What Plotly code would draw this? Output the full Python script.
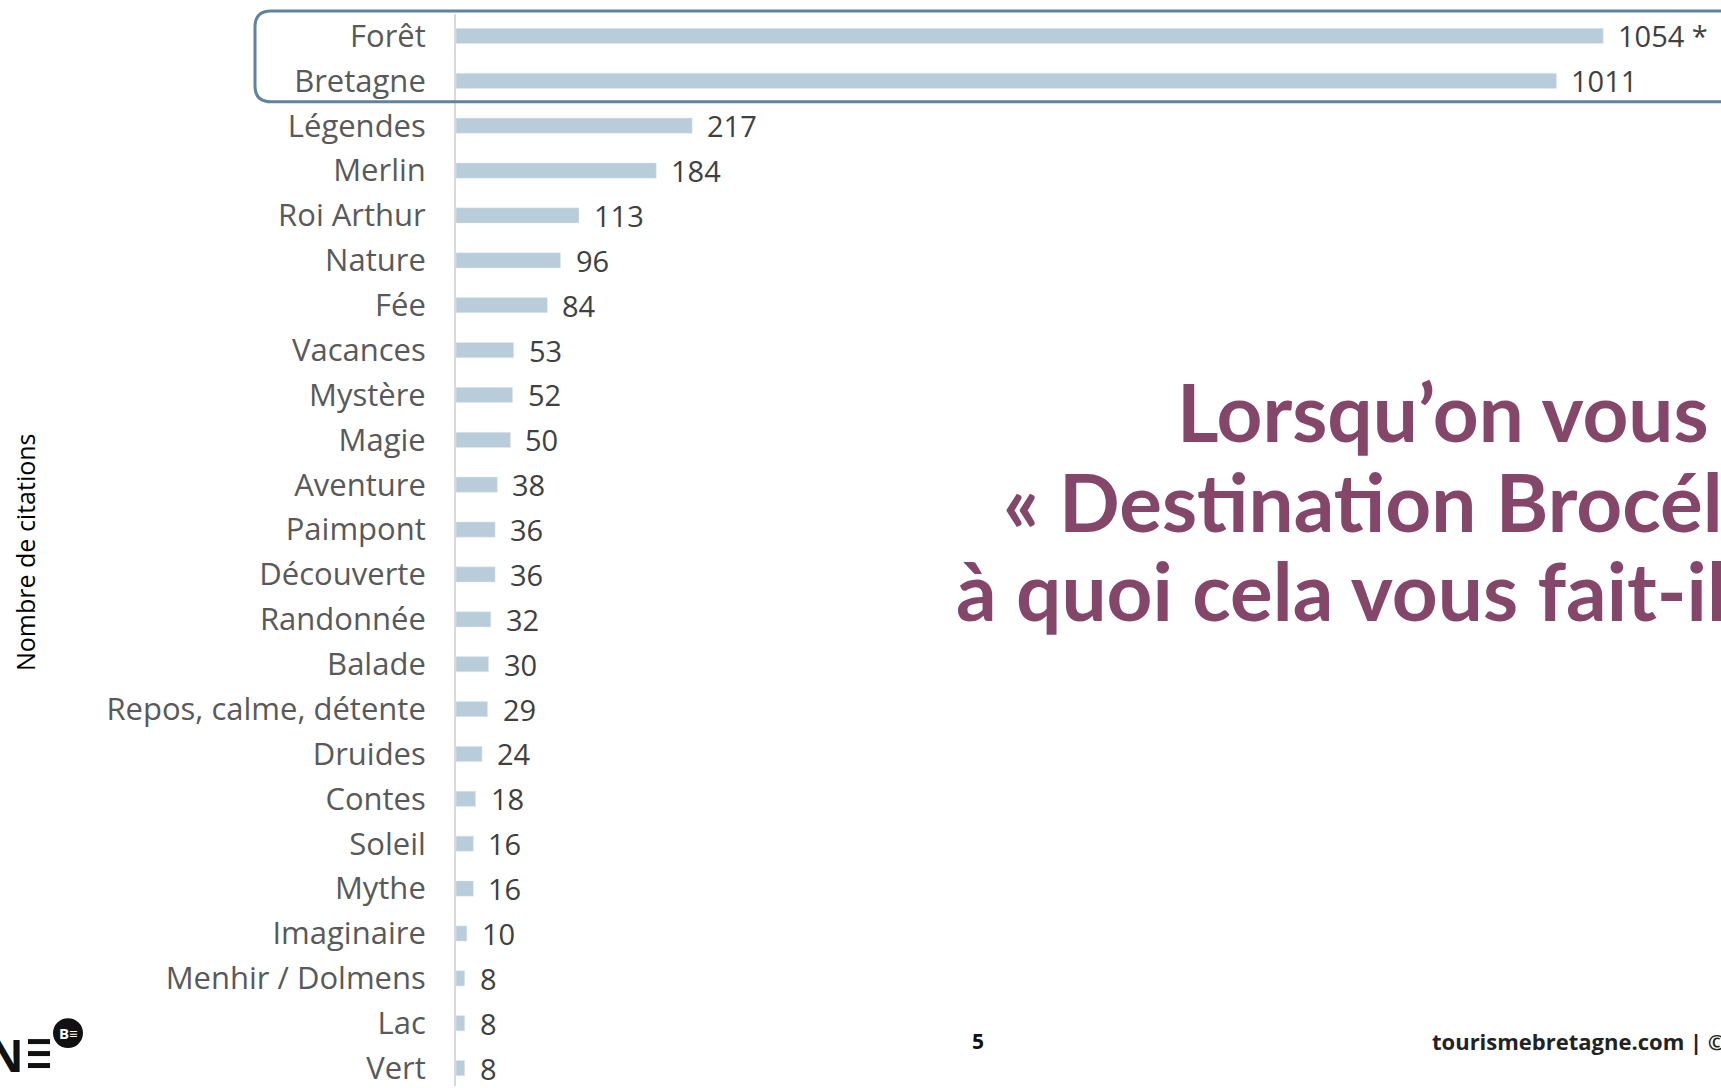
import plotly.graph_objects as go

categories = ["Forêt", "Bretagne", "Légendes", "Merlin", "Roi Arthur", "Nature", "Fée",
              "Vacances", "Mystère", "Magie", "Aventure", "Paimpont", "Découverte",
              "Randonnée", "Balade", "Repos, calme, détente", "Druides", "Contes",
              "Soleil", "Mythe", "Imaginaire", "Menhir / Dolmens", "Lac", "Vert"]
values = [1054, 1011, 217, 184, 113, 96, 84, 53, 52, 50, 38, 36, 36, 32, 30, 29, 24,
          18, 16, 16, 10, 8, 8, 8]
value_labels = ["1054 *"] + [str(v) for v in values[1:]]

title_lines = ["Lorsqu’on vous dit", "« Destination Brocéliande »",
               "à quoi cela vous fait-il penser ?"]

OFF = 0  # page body margin removed via post_script
W, H = 1721, 1088
ML, MR, MT, MB = 456 - OFF, 0, 14 - OFF, 0
PW, PH = W - ML - MR, H - MT - MB


def px(x):
    """page x pixel -> paper"""
    return (x - OFF - ML) / PW


def py(y):
    """page y pixel -> paper"""
    return 1 - (y - OFF - MT) / PH


BAR = "#B8CCDA"
TITLE = "#84476A"
BOX = "#5F83A0"

row_px = 44.96
r_top = -(36 - 14) / row_px
r_bot = r_top + PH / row_px

fig = go.Figure(go.Bar(
    x=values, y=categories, orientation="h", marker_color=BAR, width=0.34,
    hoverinfo="x+y"))

annotations = []
for c, v, t in zip(categories, values, value_labels):
    annotations.append(dict(x=v, y=c, xref="x", yref="y", text=t, showarrow=False,
                            xanchor="left", yanchor="middle", xshift=13,
                            font=dict(family="Open Sans", size=29, color="#404040")))

title_x = [1178, 1004, 957]
title_y = [412, 502, 591]
for t, x, y in zip(title_lines, title_x, title_y):
    annotations.append(dict(x=px(x - 3), y=py(y), xref="paper", yref="paper",
                            text="<b>" + t + "</b>",
                            showarrow=False, xanchor="left", yanchor="middle",
                            font=dict(family="Lato", size=80, color=TITLE)))

annotations.append(dict(x=px(25), y=py(554), xref="paper", yref="paper",
                        text="Nombre de citations", textangle=-90, showarrow=False,
                        xanchor="center", yanchor="middle",
                        font=dict(family="Open Sans", size=25, color="#000000")))

annotations.append(dict(x=px(978), y=py(1043), xref="paper", yref="paper", text="<b>5</b>",
                        showarrow=False, xanchor="center", yanchor="middle",
                        font=dict(family="Open Sans", size=21, color="#111111")))
annotations.append(dict(x=px(1430), y=py(1043), xref="paper", yref="paper",
                        text="<b>tourismebretagne.com | ©</b>", showarrow=False,
                        xanchor="left", yanchor="middle",
                        font=dict(family="Open Sans", size=22, color="#222222")))
annotations.append(dict(x=px(26), y=py(1056), xref="paper", yref="paper", text="<b>N</b>",
                        showarrow=False, xanchor="right", yanchor="middle",
                        font=dict(family="Open Sans", size=45, color="#111111")))
annotations.append(dict(x=px(68), y=py(1035), xref="paper", yref="paper", text="<b>B≡</b>",
                        showarrow=False, xanchor="center", yanchor="middle",
                        font=dict(family="Open Sans", size=15, color="#FFFFFF")))

shapes = []
l, t_, b, r, rad = 255, 11, 102, 1790, 16
path = (f"M {px(r)},{py(t_)} L {px(l + rad)},{py(t_)} Q {px(l)},{py(t_)} {px(l)},{py(t_ + rad)} "
        f"L {px(l)},{py(b - rad)} Q {px(l)},{py(b)} {px(l + rad)},{py(b)} L {px(r)},{py(b)}")
shapes.append(dict(type="path", path=path, xref="paper", yref="paper",
                   line=dict(color=BOX, width=3)))
for y0, y1 in [(1041, 1046), (1053, 1058), (1065, 1070)]:
    shapes.append(dict(type="rect", xref="paper", yref="paper", x0=px(28), x1=px(50),
                       y0=py(y1), y1=py(y0), fillcolor="#111111", line=dict(width=0)))
shapes.append(dict(type="circle", xref="paper", yref="paper", x0=px(53), x1=px(83),
                   y0=py(1050), y1=py(1020), fillcolor="#111111", line=dict(width=0),
                   layer="below"))

fig.update_layout(
    width=W, height=H,
    margin=dict(l=ML, r=MR, t=MT, b=MB, pad=0),
    paper_bgcolor="white", plot_bgcolor="white",
    showlegend=False,
    xaxis=dict(range=[0, PW / 1.0885], visible=False, showgrid=False, zeroline=False),
    yaxis=dict(type="category", categoryorder="array", categoryarray=categories,
               range=[r_bot, r_top], showline=True, linecolor="#D9D9D9", linewidth=2,
               ticks="", showgrid=False, zeroline=False, ticklabelstandoff=22,
               tickfont=dict(family="Open Sans", size=31, color="#595959")),
    annotations=annotations,
    shapes=shapes,
)

fig.write_html("out.html",
               config={"displayModeBar": False},
               post_script="document.body.style.margin='0';"
                           "document.body.style.overflow='hidden';")
